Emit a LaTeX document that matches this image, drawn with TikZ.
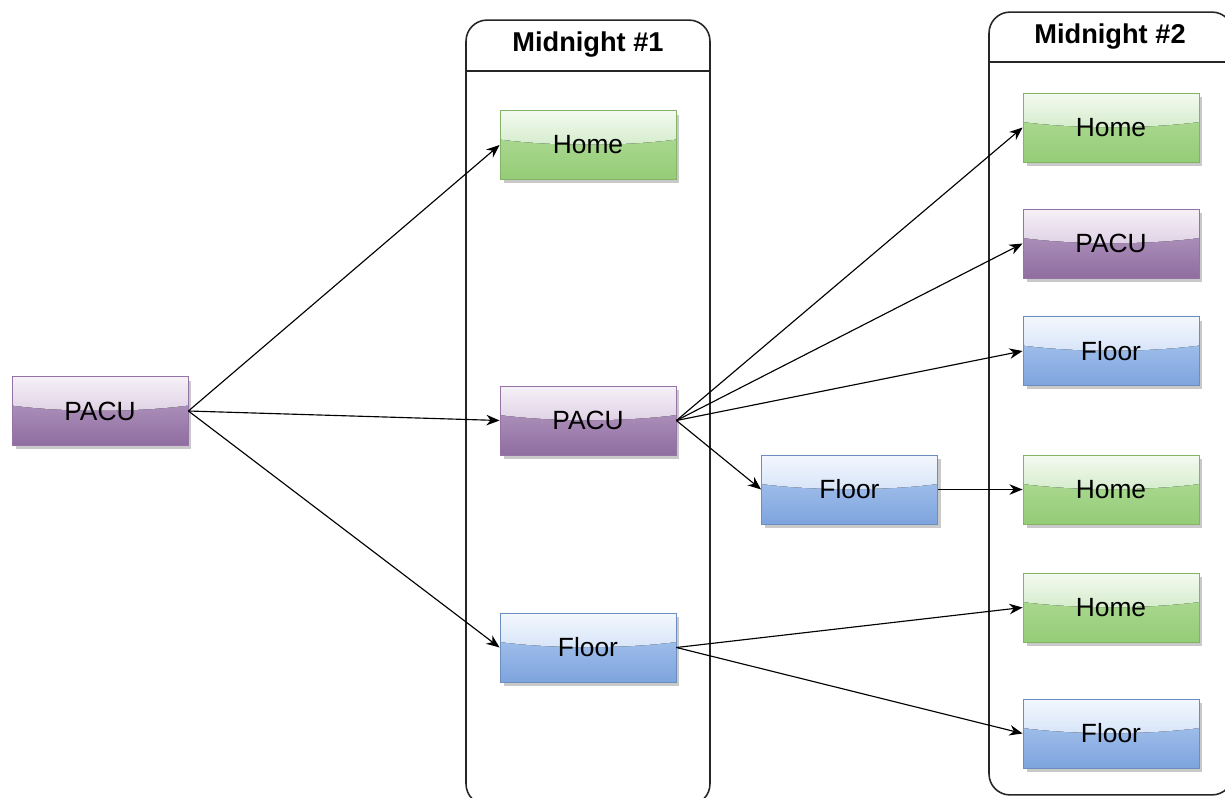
\documentclass[tikz,border=0pt]{standalone}
\usepackage{fontspec}
\setmainfont{Liberation Sans}
\usetikzlibrary{arrows.meta,shadows,calc}
\definecolor{puTop}{HTML}{F6F1F8}\definecolor{puMid}{HTML}{DED1E4}\definecolor{puLow}{HTML}{BEA4CA}\definecolor{puBot}{HTML}{8F6DA0}\definecolor{puLine}{HTML}{9673A6}
\definecolor{grTop}{HTML}{F4FAF1}\definecolor{grMid}{HTML}{D4ECCB}\definecolor{grLow}{HTML}{B6DFA0}\definecolor{grBot}{HTML}{95CC76}\definecolor{grLine}{HTML}{82B366}
\definecolor{blTop}{HTML}{F3F7FD}\definecolor{blMid}{HTML}{D6E4F8}\definecolor{blLow}{HTML}{B3CDF1}\definecolor{blBot}{HTML}{7EA4DE}\definecolor{blLine}{HTML}{6C8EBF}
\tikzset{
  gloss/.style n args={4}{
    path picture={
      \fill[top color=#3,bottom color=#4] (path picture bounding box.south west) rectangle (path picture bounding box.north east);
      \fill[top color=#1,bottom color=#2]
        (path picture bounding box.north west) -- (path picture bounding box.north east)
        -- ($(path picture bounding box.north east)!0.42!(path picture bounding box.south east)$)
        .. controls ($(path picture bounding box.north)!0.52!(path picture bounding box.south)+(0.7cm,0)$)
           and ($(path picture bounding box.north)!0.52!(path picture bounding box.south)+(-0.7cm,0)$) ..
        ($(path picture bounding box.north west)!0.42!(path picture bounding box.south west)$) -- cycle;
    }},
  box/.style={draw, line width=0.5pt, minimum width=3.52cm, minimum height=1.38cm,
    font=\fontsize{15}{17}\selectfont, inner sep=0pt,
    drop shadow={shadow xshift=0.07cm, shadow yshift=-0.08cm, fill=black!30, opacity=0.7}},
  pu/.style={box, draw=puLine, gloss={puTop}{puMid}{puLow}{puBot}},
  gr/.style={box, draw=grLine, gloss={grTop}{grMid}{grLow}{grBot}},
  bl/.style={box, draw=blLine, gloss={blTop}{blMid}{blLow}{blBot}},
  lane/.style={draw=black!85, line width=0.9pt, rounded corners=0.42cm, inner sep=0pt},
  lanetitle/.style={font=\fontsize{15.5}{17}\selectfont\bfseries},
  arr/.style={-{Stealth[length=7.5pt,width=6pt]}, line width=0.65pt, black}
}
\begin{document}
\begin{tikzpicture}[x=0.02cm,y=-0.02cm]
\useasboundingbox (0,0) rectangle (1225,798);
% lanes
\node[lane, minimum width=4.88cm, minimum height=15.7cm] (L1) at (588,412.5) {};
\draw[black!85, line width=0.9pt] (L1.west |- 0,71) coordinate (l1a) -- (L1.east |- 0,71) coordinate (l1b);
\node[lanetitle] (T1) at (588,45) {Midnight \#1};
\node[lane, minimum width=4.88cm, minimum height=15.66cm] (L2) at (1111,403.5) {};
\draw[black!85, line width=0.9pt] (L2.west |- 0,62) coordinate (l2a) -- (L2.east |- 0,62) coordinate (l2b);
\node[lanetitle] (T2) at (1110,37) {Midnight \#2};
% nodes
\node[pu] (p0) at (100,411) {PACU};
\node[gr] (h1) at (588,145) {Home};
\node[pu] (p1) at (588,420.5) {PACU};
\node[bl] (f1) at (588,647.5) {Floor};
\node[bl] (fm) at (849.5,489.5) {Floor};
\node[gr] (h2a) at (1111,127.5) {Home};
\node[pu] (p2) at (1111,243.5) {PACU};
\node[bl] (f2a) at (1111,351) {Floor};
\node[gr] (h2b) at (1111,489.5) {Home};
\node[gr] (h2c) at (1111,607.5) {Home};
\node[bl] (f2b) at (1111,733.5) {Floor};
% edges
\draw[arr] (p0.east) -- (h1.west);
\draw[arr] (p0.east) -- (p1.west);
\draw[arr] (p0.east) -- (f1.west);
\draw[arr] (p1.east) -- (h2a.west);
\draw[arr] (p1.east) -- (p2.west);
\draw[arr] (p1.east) -- (f2a.west);
\draw[arr] (p1.east) -- (fm.west);
\draw[arr] (fm.east) -- (h2b.west);
\draw[arr] (f1.east) -- (h2c.west);
\draw[arr] (f1.east) -- (f2b.west);
\end{tikzpicture}
\end{document}
